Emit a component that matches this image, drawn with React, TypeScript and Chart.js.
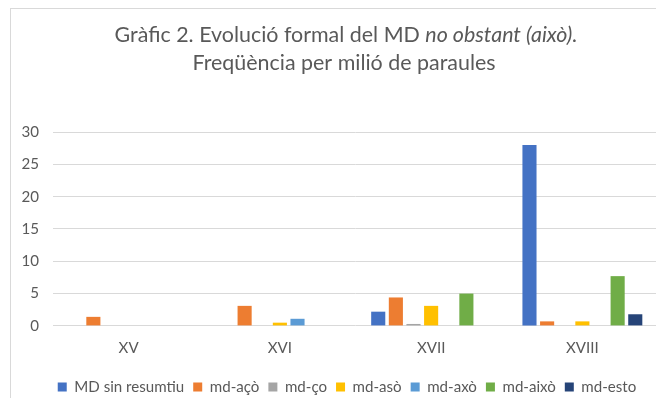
import React, { useEffect, useRef } from 'react';
import { Chart, registerables } from 'chart.js';

Chart.register(...registerables);

const categories = ['XV', 'XVI', 'XVII', 'XVIII'];
const seriesNames = ['MD sin resumtiu', 'md-açò', 'md-ço', 'md-asò', 'md-axò', 'md-això', 'md-esto'];
const mdSinResumtiu = [0, 0, 2.2, 28];
const mdAco = [1.4, 3.1, 4.4, 0.7];
const mdCo = [0, 0, 0.3, 0];
const mdAso = [0, 0.5, 3.1, 0.7];
const mdAxo = [0, 1.1, 0, 0];
const mdAixo = [0, 0, 5.0, 7.7];
const mdEsto = [0, 0, 0, 1.8];
const yMin = 0;
const yMax = 30;
const yStep = 5;
const titleRegular = 'Gràfic 2. Evolució formal del MD ';
const titleItalic = 'no obstant (això).';
const titleLine2 = 'Freqüència per milió de paraules';
const seriesColors = ['#4472C4', '#ED7D31', '#A5A5A5', '#FFC000', '#5B9BD5', '#70AD47', '#264478'];

const FONT = 'Lato';
const TEXT = '#595959';
const GRID = '#d9d9d9';

function measure(text: string, size: number, style = 'normal') {
  const c = document.createElement('canvas').getContext('2d')!;
  c.font = `${style} ${size}px ${FONT}`;
  return c.measureText(text).width;
}
function fit(text: string, target: number) {
  return (target / measure(text, 100)) * 100;
}

export default function App() {
  const ref = useRef<HTMLCanvasElement | null>(null);
  useEffect(() => {
    if (!ref.current) return;
    const legendSize = Math.round(fit('MD sin resumtiu', 110) * 10) / 10;
    const tickSize = legendSize;
    const titleSize =
      (463 / (measure(titleRegular, 100) + measure(titleItalic, 100, 'italic'))) * 100;

    const frame = {
      id: 'frame',
      afterLayout(chart: any) {
        if (chart.legend) {
          chart.legend.left += 14;
          chart.legend.right += 14;
        }
      },
      beforeDraw(chart: any) {
        const ctx = chart.ctx;
        ctx.save();
        ctx.fillStyle = '#ffffff';
        ctx.fillRect(0, 0, chart.width, chart.height);
        ctx.strokeStyle = GRID;
        ctx.lineWidth = 1;
        ctx.strokeRect(2.5, 0.5, chart.width + 20, chart.height + 20);
        ctx.restore();
      },
      afterDraw(chart: any) {
        const ctx = chart.ctx;
        ctx.save();
        ctx.fillStyle = TEXT;
        ctx.textBaseline = 'middle';
        ctx.textAlign = 'left';
        const cx = 338;
        ctx.font = `normal ${titleSize}px ${FONT}`;
        const w1 = ctx.measureText(titleRegular).width;
        ctx.font = `italic ${titleSize}px ${FONT}`;
        const w2 = ctx.measureText(titleItalic).width;
        const x = cx - (w1 + w2) / 2;
        ctx.font = `normal ${titleSize}px ${FONT}`;
        ctx.fillText(titleRegular, x, 27);
        ctx.font = `italic ${titleSize}px ${FONT}`;
        ctx.fillText(titleItalic, x + w1, 27);
        ctx.font = `normal ${titleSize}px ${FONT}`;
        ctx.textAlign = 'center';
        ctx.fillText(titleLine2, cx - 2, 55);
        ctx.restore();
      },
    };

    const values = [mdSinResumtiu, mdAco, mdCo, mdAso, mdAxo, mdAixo, mdEsto];
    const chart = new Chart(ref.current, {
      type: 'bar',
      data: {
        labels: categories,
        datasets: seriesNames.map((name, i) => ({
          label: name,
          data: values[i],
          backgroundColor: seriesColors[i],
          borderWidth: 0,
          categoryPercentage: 0.816,
          barPercentage: 0.8,
        })),
      },
      options: {
        responsive: false,
        animation: false,
        layout: { padding: { top: 124, right: 6, left: 0, bottom: 1.5 } },
        plugins: {
          title: { display: false },
          tooltip: { enabled: false },
          legend: {
            position: 'bottom',
            labels: {
              color: TEXT,
              font: { family: FONT, size: legendSize },
              boxWidth: 9,
              boxHeight: 9,
              padding: 9,
            },
          },
        },
        scales: {
          x: {
            grid: { display: false, drawTicks: false },
            border: { display: false },
            ticks: { color: TEXT, font: { family: FONT, size: tickSize }, padding: 13 },
            afterFit: (axis: any) => {
              axis.height = 44.5;
            },
          },
          y: {
            min: yMin,
            max: yMax,
            ticks: { stepSize: yStep, color: TEXT, font: { family: FONT, size: tickSize }, padding: 14 },
            grid: { color: GRID, drawTicks: false },
            border: { display: false },
            afterFit: (axis: any) => {
              axis.width = 45;
            },
          },
        },
      },
      plugins: [frame],
    });
    return () => chart.destroy();
  }, []);
  return (
    <div style={{ width: 656, height: 390, overflow: 'hidden' }}>
      <canvas ref={ref} width={656} height={398} style={{ display: 'block' }} />
    </div>
  );
}
